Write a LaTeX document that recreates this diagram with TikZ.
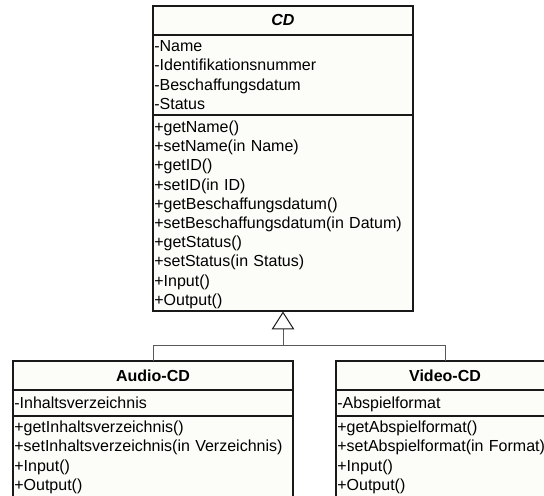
\documentclass[tikz,border=0pt]{standalone}
\usepackage{fontspec}
\setmainfont{Liberation Sans}
\usetikzlibrary{arrows.meta,positioning}
\definecolor{boxfill}{RGB}{252,252,248}
\newcommand{\rowstrut}{\rule[-3.15pt]{0pt}{14.4pt}}

\begin{document}
\begin{tikzpicture}[x=0.75pt, y=-0.75pt,
  font=\fontsize{12pt}{14.4pt}\selectfont,
  part/.style={draw=black!90, line width=1.5pt, fill=boxfill, outer sep=0pt,
               inner xsep=1pt, inner ysep=1.5pt},
  title/.style={part, minimum height=21.5pt,
                font=\fontsize{12pt}{14.4pt}\selectfont\bfseries},
  members/.style={part, align=left, text width=#1,
                  execute at begin node=\rowstrut, execute at end node=\rowstrut},
  openbottom/.style={execute at end node=\rule[-7pt]{0pt}{14.4pt}},
  inherit/.style={draw=black!65, line width=0.75pt}
]

  % ====== 0) 画布大小（像素） ======
  \useasboundingbox (0,0) rectangle (544,496);
  \clip (0,0) rectangle (544,496);

  % ====== 1) 抽象类 CD ======
  \node[title, minimum width=195pt, anchor=north west] (cd) at (153,6) {\textit{CD}};
  \node[members=193pt, below=0pt of cd] (cdattr)
    {-Name\\-Identifikationsnummer\\-Beschaffungsdatum\\-Status};
  \node[members=193pt, below=0pt of cdattr] (cdops)
    {+getName()\\+setName(in Name)\\+getID()\\+setID(in ID)\\
     +getBeschaffungsdatum()\\+setBeschaffungsdatum(in Datum)\\
     +getStatus()\\+setStatus(in Status)\\+Input()\\+Output()};

  % ====== 2) 子类 Audio-CD ======
  \node[title, minimum width=210pt, anchor=north west] (audio) at (13,361) {Audio-CD};
  \node[members=208pt, minimum height=19.5pt, below=0pt of audio] (audioattr)
    {-Inhaltsverzeichnis};
  \node[members=208pt, openbottom, below=0pt of audioattr] (audioops)
    {+getInhaltsverzeichnis()\\+setInhaltsverzeichnis(in Verzeichnis)\\
     +Input()\\+Output()};

  % ====== 3) 子类 Video-CD ======
  \node[title, minimum width=163.5pt, anchor=north west] (video) at (336,361) {Video-CD};
  \node[members=161.5pt, minimum height=19.5pt, below=0pt of video] (videoattr)
    {-Abspielformat};
  \node[members=161.5pt, openbottom, below=0pt of videoattr] (videoops)
    {+getAbspielformat()\\+setAbspielformat(in Format)\\+Input()\\+Output()};

  % ====== 4) 继承关系（空心三角箭头） ======
  \path (cdops.south) ++(0,34) coordinate (bus);
  \draw[inherit] (audio.north) |- (bus) -| (video.north);
  \draw[inherit, -{Triangle[open, width=17pt, length=13.5pt, color=black!90]}]
    (bus) -- (cdops.south);

\end{tikzpicture}
\end{document}
